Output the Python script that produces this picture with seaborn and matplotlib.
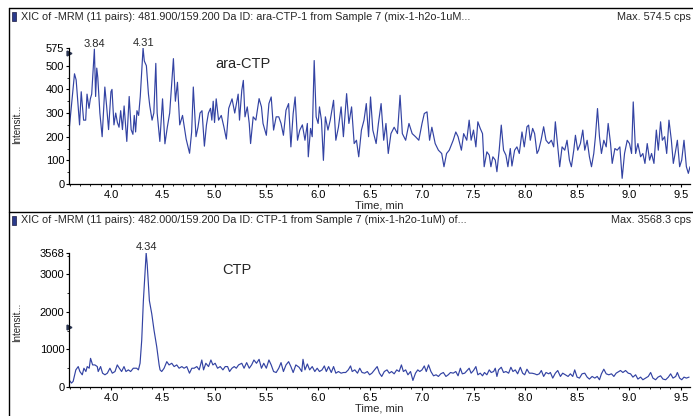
import matplotlib
matplotlib.use("Agg")
import matplotlib.pyplot as plt
from matplotlib.lines import Line2D
from matplotlib.patches import Rectangle
from matplotlib.ticker import MultipleLocator
import pandas as pd
import seaborn as sns

# ---------------- data ----------------
ara_time = [3.590, 3.648, 3.664, 3.697, 3.713, 3.736, 3.756, 3.769, 3.788, 3.801,
            3.814, 3.840, 3.852, 3.863, 3.873, 3.893, 3.915, 3.941, 3.958, 3.977,
            4.000, 4.010, 4.029, 4.046, 4.062, 4.078, 4.094, 4.111, 4.127, 4.153,
            4.176, 4.195, 4.212, 4.225, 4.238, 4.251, 4.267, 4.283, 4.310, 4.322,
            4.342, 4.362, 4.375, 4.397, 4.414, 4.433, 4.446, 4.472, 4.498, 4.521,
            4.544, 4.567, 4.603, 4.622, 4.642, 4.664, 4.691, 4.726, 4.759, 4.779,
            4.795, 4.821, 4.840, 4.860, 4.879, 4.902, 4.922, 4.941, 4.961, 4.974,
            4.987, 5.000, 5.016, 5.039, 5.065, 5.091, 5.114, 5.137, 5.169, 5.195,
            5.228, 5.241, 5.263, 5.278, 5.294, 5.316, 5.335, 5.348, 5.373, 5.399,
            5.430, 5.453, 5.468, 5.500, 5.525, 5.547, 5.570, 5.595, 5.620, 5.642,
            5.665, 5.690, 5.715, 5.737, 5.759, 5.778, 5.801, 5.823, 5.848, 5.873,
            5.896, 5.905, 5.927, 5.943, 5.962, 5.981, 6.000, 6.013, 6.032, 6.051,
            6.070, 6.095, 6.117, 6.149, 6.171, 6.196, 6.222, 6.244, 6.275, 6.297,
            6.323, 6.348, 6.370, 6.392, 6.418, 6.443, 6.465, 6.487, 6.506, 6.528,
            6.560, 6.582, 6.608, 6.633, 6.655, 6.677, 6.703, 6.734, 6.766, 6.791,
            6.813, 6.845, 6.877, 6.908, 6.940, 6.972, 7.003, 7.025, 7.051, 7.076,
            7.098, 7.130, 7.161, 7.193, 7.215, 7.240, 7.266, 7.304, 7.329, 7.351,
            7.383, 7.405, 7.435, 7.458, 7.477, 7.500, 7.523, 7.542, 7.565, 7.587,
            7.603, 7.629, 7.652, 7.668, 7.687, 7.710, 7.726, 7.748, 7.768, 7.790,
            7.813, 7.832, 7.855, 7.871, 7.897, 7.919, 7.942, 7.968, 7.990, 8.016,
            8.032, 8.048, 8.071, 8.090, 8.113, 8.129, 8.152, 8.177, 8.200, 8.226,
            8.252, 8.274, 8.290, 8.313, 8.332, 8.355, 8.381, 8.403, 8.426, 8.445,
            8.468, 8.484, 8.506, 8.532, 8.555, 8.574, 8.597, 8.619, 8.639, 8.661,
            8.677, 8.697, 8.716, 8.735, 8.758, 8.781, 8.800, 8.823, 8.839, 8.865,
            8.887, 8.913, 8.935, 8.958, 8.984, 9.006, 9.026, 9.042, 9.065, 9.087,
            9.113, 9.135, 9.155, 9.177, 9.200, 9.219, 9.242, 9.265, 9.284, 9.306,
            9.323, 9.345, 9.365, 9.387, 9.410, 9.429, 9.452, 9.468, 9.490, 9.510,
            9.532, 9.555, 9.574, 9.590]
ara_int = [200, 466, 440, 250, 390, 270, 270, 380, 320, 360,
           380, 570, 370, 490, 450, 300, 200, 410, 330, 230,
           390, 400, 250, 300, 260, 240, 310, 230, 330, 180,
           370, 230, 210, 290, 220, 310, 290, 370, 574.5, 520,
           500, 380, 330, 270, 300, 510, 300, 180, 360, 170,
           240, 300, 530, 350, 430, 250, 290, 190, 130, 220,
           410, 200, 240, 300, 310, 160, 250, 300, 320, 270,
           350, 260, 360, 270, 290, 240, 190, 320, 360, 300,
           380, 270, 396, 438, 284, 326, 256, 171, 284, 270,
           361, 326, 256, 206, 340, 368, 228, 284, 284, 256,
           206, 312, 340, 157, 298, 368, 185, 228, 250, 185,
           256, 115, 235, 200, 522, 284, 256, 326, 270, 100,
           284, 228, 270, 354, 185, 240, 326, 200, 382, 256,
           326, 171, 185, 115, 228, 270, 340, 200, 368, 228,
           171, 256, 340, 185, 256, 129, 213, 240, 213, 375,
           213, 185, 256, 213, 200, 185, 256, 298, 305, 185,
           240, 171, 143, 129, 73, 129, 143, 185, 220, 200,
           143, 213, 185, 270, 185, 228, 157, 263, 235, 213,
           73, 136, 122, 73, 115, 101, 52, 143, 249, 143,
           122, 73, 150, 76, 143, 157, 129, 220, 157, 242,
           249, 185, 235, 213, 129, 143, 185, 242, 185, 171,
           185, 157, 263, 157, 73, 157, 143, 185, 101, 73,
           143, 206, 143, 171, 228, 143, 185, 115, 73, 129,
           200, 319, 200, 129, 185, 157, 256, 171, 87, 150,
           143, 157, 24, 129, 185, 171, 129, 347, 129, 171,
           115, 129, 87, 171, 101, 129, 87, 228, 143, 263,
           185, 200, 129, 270, 185, 87, 143, 185, 73, 101,
           185, 73, 45, 73]

ctp_time = [3.594, 3.619, 3.635, 3.661, 3.684, 3.700, 3.723, 3.739, 3.758, 3.771,
            3.790, 3.803, 3.823, 3.845, 3.868, 3.877, 3.900, 3.919, 3.942, 3.965,
            3.990, 4.013, 4.039, 4.061, 4.081, 4.103, 4.126, 4.145, 4.168, 4.190,
            4.216, 4.248, 4.265, 4.281, 4.297, 4.313, 4.340, 4.350, 4.371, 4.394,
            4.416, 4.442, 4.465, 4.474, 4.490, 4.513, 4.539, 4.561, 4.587, 4.610,
            4.635, 4.658, 4.684, 4.706, 4.732, 4.758, 4.781, 4.803, 4.829, 4.852,
            4.877, 4.894, 4.916, 4.942, 4.965, 4.984, 5.006, 5.029, 5.055, 5.081,
            5.103, 5.126, 5.145, 5.168, 5.190, 5.210, 5.232, 5.263, 5.285, 5.310,
            5.335, 5.358, 5.380, 5.405, 5.430, 5.453, 5.475, 5.500, 5.525, 5.547,
            5.570, 5.595, 5.620, 5.642, 5.665, 5.690, 5.715, 5.737, 5.759, 5.785,
            5.816, 5.842, 5.854, 5.873, 5.896, 5.918, 5.943, 5.968, 5.991, 6.013,
            6.038, 6.060, 6.079, 6.101, 6.127, 6.149, 6.171, 6.196, 6.222, 6.244,
            6.266, 6.291, 6.313, 6.329, 6.354, 6.380, 6.402, 6.424, 6.449, 6.475,
            6.497, 6.519, 6.544, 6.570, 6.592, 6.614, 6.639, 6.665, 6.687, 6.709,
            6.734, 6.759, 6.782, 6.804, 6.823, 6.845, 6.867, 6.892, 6.915, 6.940,
            6.962, 6.981, 7.003, 7.025, 7.044, 7.066, 7.089, 7.114, 7.139, 7.161,
            7.184, 7.209, 7.234, 7.256, 7.278, 7.304, 7.329, 7.351, 7.373, 7.392,
            7.415, 7.458, 7.477, 7.500, 7.523, 7.542, 7.565, 7.587, 7.606, 7.629,
            7.652, 7.671, 7.694, 7.710, 7.726, 7.742, 7.768, 7.790, 7.813, 7.839,
            7.861, 7.881, 7.903, 7.926, 7.952, 7.974, 7.994, 8.016, 8.039, 8.065,
            8.090, 8.113, 8.135, 8.155, 8.177, 8.200, 8.226, 8.242, 8.265, 8.290,
            8.313, 8.339, 8.361, 8.387, 8.413, 8.435, 8.458, 8.477, 8.500, 8.523,
            8.548, 8.574, 8.597, 8.619, 8.645, 8.671, 8.694, 8.716, 8.735, 8.758,
            8.781, 8.806, 8.832, 8.855, 8.877, 8.903, 8.919, 8.942, 8.968, 8.994,
            9.016, 9.039, 9.065, 9.087, 9.113, 9.135, 9.161, 9.187, 9.210, 9.232,
            9.258, 9.281, 9.306, 9.329, 9.355, 9.381, 9.403, 9.426, 9.452, 9.468,
            9.490, 9.510, 9.532, 9.555, 9.581]
ctp_int = [193, 105, 150, 456, 544, 412, 325, 500, 412, 544,
           500, 763, 588, 588, 544, 412, 544, 368, 325, 368,
           500, 368, 412, 588, 500, 412, 544, 412, 456, 412,
           500, 500, 456, 632, 1245, 2298, 3568, 3263, 2298, 1947,
           1509, 1070, 588, 456, 412, 500, 675, 588, 632, 544,
           588, 500, 544, 500, 544, 368, 500, 500, 544, 456,
           719, 456, 632, 544, 719, 588, 632, 500, 544, 456,
           544, 544, 412, 500, 544, 500, 588, 632, 500, 649,
           500, 588, 719, 632, 737, 500, 632, 500, 719, 588,
           412, 386, 500, 649, 412, 588, 675, 544, 386, 588,
           526, 412, 737, 456, 614, 456, 544, 412, 500, 412,
           456, 561, 412, 544, 386, 544, 368, 412, 368, 386,
           386, 456, 561, 412, 456, 368, 500, 386, 368, 412,
           325, 368, 456, 544, 368, 281, 412, 456, 368, 412,
           351, 456, 412, 588, 412, 456, 325, 412, 175, 368,
           456, 412, 456, 561, 412, 588, 412, 298, 325, 281,
           351, 386, 281, 325, 386, 368, 412, 298, 500, 351,
           368, 500, 368, 439, 544, 325, 368, 298, 386, 325,
           456, 386, 412, 500, 281, 456, 526, 386, 412, 368,
           526, 412, 456, 351, 526, 368, 325, 474, 368, 368,
           351, 325, 351, 439, 281, 386, 351, 386, 237, 368,
           439, 281, 368, 325, 281, 351, 281, 456, 263, 237,
           351, 368, 263, 211, 281, 237, 281, 193, 351, 474,
           351, 325, 351, 281, 368, 412, 439, 386, 439, 368,
           351, 263, 325, 211, 263, 193, 237, 281, 386, 237,
           193, 263, 298, 211, 193, 263, 351, 237, 281, 386,
           237, 193, 263, 237, 263]

top_ticks = [0, 100, 200, 300, 400, 500, 575]
bottom_ticks = [0, 1000, 2000, 3000, 3568]
x_ticks = [4.0, 4.5, 5.0, 5.5, 6.0, 6.5, 7.0, 7.5, 8.0, 8.5, 9.0, 9.5]

top_header = "XIC of -MRM (11 pairs): 481.900/159.200 Da ID: ara-CTP-1 from Sample 7 (mix-1-h2o-1uM..."
bottom_header = "XIC of -MRM (11 pairs): 482.000/159.200 Da ID: CTP-1 from Sample 7 (mix-1-h2o-1uM) of..."
top_max = "Max. 574.5 cps"
bottom_max = "Max. 3568.3 cps"

# ---------------- styling ----------------
sns.set_style("ticks")
plt.rcParams['font.family'] = ['Liberation Sans', 'DejaVu Sans']
LINE = '#3343a3'
W, H = 693, 416
FS_TICK = 8
FS_HEAD = 7.8

fig = plt.figure(figsize=(W / 100, H / 100), dpi=100)

def fx(px):
    return px / W

def fy(py):
    return 1 - py / H

ax_top = fig.add_axes([fx(69), fy(184), fx(690) - fx(69), fy(48) - fy(184)])
ax_bot = fig.add_axes([fx(69), fy(387), fx(690) - fx(69), fy(253) - fy(387)])

df_top = pd.DataFrame({"time": ara_time, "intensity": ara_int})
df_bot = pd.DataFrame({"time": ctp_time, "intensity": ctp_int})

sns.lineplot(data=df_top, x="time", y="intensity", ax=ax_top, color=LINE,
             linewidth=0.85, estimator=None, sort=False)
sns.lineplot(data=df_bot, x="time", y="intensity", ax=ax_bot, color=LINE,
             linewidth=0.85, estimator=None, sort=False)

for ax, yt, ymax, minor in [(ax_top, top_ticks, 575, 50), (ax_bot, bottom_ticks, 3568, 500)]:
    ax.set_xlim(3.595, 9.59)
    ax.set_ylim(0, ymax)
    ax.set_xticks(x_ticks)
    ax.set_xticklabels([f"{t:.1f}" for t in x_ticks])
    ax.set_yticks(yt)
    ax.set_yticklabels([str(v) for v in yt])
    ax.xaxis.set_minor_locator(MultipleLocator(0.1))
    ax.yaxis.set_minor_locator(MultipleLocator(minor))
    ax.tick_params(axis='both', which='major', direction='out', length=2.2,
                   width=0.8, labelsize=FS_TICK, colors='black')
    ax.tick_params(axis='x', which='major', pad=2.2)
    ax.tick_params(axis='y', which='major', pad=1.2)
    ax.tick_params(axis='both', which='minor', direction='out', length=1.6, width=0.7)
    for s in ['top', 'right']:
        ax.spines[s].set_visible(False)
    for s in ['left', 'bottom']:
        ax.spines[s].set_linewidth(0.9)
        ax.spines[s].set_color('black')
    ax.set_xlabel("Time, min", fontsize=FS_TICK, labelpad=0)
    ax.set_ylabel("")
    ax.patch.set_alpha(0)

# peak labels
ax_top.text(3.84, 594, "3.84", ha='center', va='center', fontsize=FS_TICK, clip_on=False)
ax_top.text(4.31, 598, "4.31", ha='center', va='center', fontsize=FS_TICK, clip_on=False)
ax_bot.text(4.34, 3740, "4.34", ha='center', va='center', fontsize=FS_TICK, clip_on=False)

# compound names
fig.text(fx(215), fy(64), "ara-CTP", fontsize=10.5, ha='left', va='center')
fig.text(fx(222), fy(270), "CTP", fontsize=10.5, ha='left', va='center')

# y labels
fig.text(fx(17), fy(124), "Intensit...", rotation=90, fontsize=7, ha='center', va='center')
fig.text(fx(17), fy(322), "Intensit...", rotation=90, fontsize=7, ha='center', va='center')

# threshold markers on the y axes
ax_top.plot([3.595], [555], marker='>', color='#2a3450', markersize=3.5, clip_on=False)
ax_bot.plot([3.595], [1600], marker='>', color='#2a3450', markersize=3.5, clip_on=False)

# headers and frame
for yline in [8, 212]:
    fig.add_artist(Line2D([fx(9), 1.0], [fy(yline), fy(yline)], color='black', lw=1.0))
fig.add_artist(Line2D([fx(9), fx(9)], [fy(8), 0.0], color='black', lw=1.0))

for yc, txt, mx in [(16.5, top_header, top_max), (220, bottom_header, bottom_max)]:
    fig.add_artist(Rectangle((fx(12.5), fy(yc + 4.5)), fx(3.5), fy(yc - 4.5) - fy(yc + 4.5),
                             facecolor='#2a3a8c', edgecolor='#1a1a40', lw=0.5))
    fig.text(fx(21), fy(yc), txt, fontsize=FS_HEAD, ha='left', va='center')
    fig.text(fx(691), fy(yc), mx, fontsize=FS_HEAD, ha='right', va='center')

fig.savefig("out.png", dpi=100)
